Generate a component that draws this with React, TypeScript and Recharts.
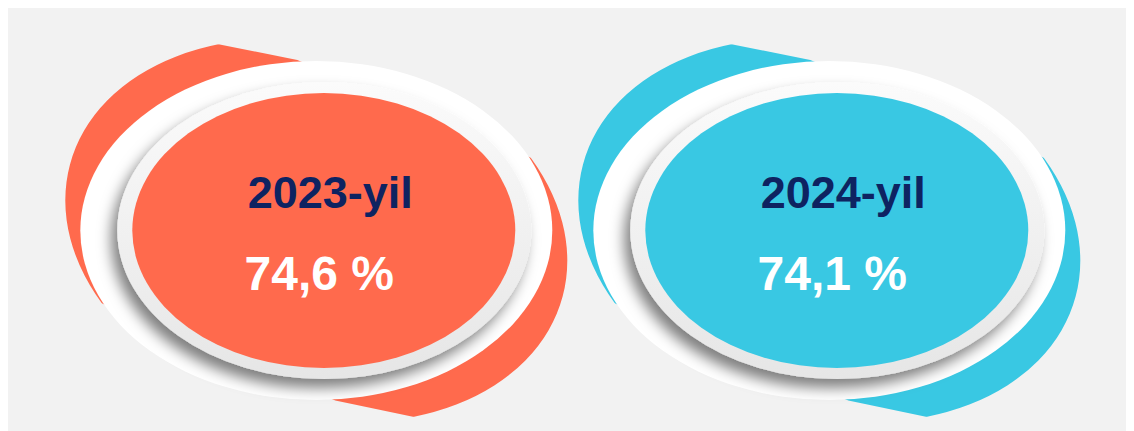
import React from 'react';
import { BarChart, Bar, XAxis, YAxis } from 'recharts';

const years = ['2023-yil', '2024-yil'];
const shares = [74.6, 74.1];
const shareLabels = ['74,6 %', '74,1 %'];
const fillColors = ['#FF6A4D', '#39C8E3'];
const titleColor = '#0E2361';

const data = years.map((year, i) => ({
  year,
  value: shares[i],
  label: shareLabels[i],
  color: fillColors[i],
}));

const W = 1127;
const H = 423;

// geometry relative to the badge centre
const BACK_A = 255;
const BACK_B = 186.5;
const BACK_ROT = 15;
const topLine = (x: number) => -186.5 + 0.2 * (x + 99);
const botLine = (x: number) => 186.5 + 0.21 * (x - 98);
const CHORD_SLOPE = 97 / 232;

function Badge(props: any) {
  const { x, width, background, payload, index } = props;
  const cx = x + width / 2;
  const cy = background && background.height ? background.y + background.height / 2 : 222.5;
  const id = `b${index}`;
  const clipPts = [
    [-400, topLine(-400)],
    [-19, topLine(-19)],
    [213, -73.5],
    [400, -73.5 + 187 * CHORD_SLOPE],
    [400, botLine(400)],
    [19, botLine(19)],
    [-213, 73.5],
    [-400, 73.5 - 187 * CHORD_SLOPE],
  ]
    .map((p) => p.join(','))
    .join(' ');
  return (
    <g transform={`translate(${cx},${cy})`}>
      <defs>
        <clipPath id={`clip-${id}`}>
          <polygon points={clipPts} />
        </clipPath>
        <linearGradient id={`ring-${id}`} x1="0" y1="0" x2="0" y2="1">
          <stop offset="0%" stopColor="#fbfbfb" />
          <stop offset="100%" stopColor="#e6e6e6" />
        </linearGradient>
        <filter id={`sh-${id}`} x="-20%" y="-20%" width="140%" height="150%">
          <feDropShadow dx={-6} dy={9} stdDeviation={7} floodColor="#000" floodOpacity={0.5} />
        </filter>
      </defs>
      <g clipPath={`url(#clip-${id})`}>
        <ellipse cx={0} cy={0} rx={BACK_A} ry={BACK_B} transform={`rotate(${BACK_ROT})`} fill={payload.color} />
      </g>
      <ellipse cx={0} cy={0} rx={236} ry={169.5} fill="#ffffff" />
      <ellipse cx={8} cy={0} rx={207} ry={148.5} fill={`url(#ring-${id})`} filter={`url(#sh-${id})`} />
      <ellipse cx={7.5} cy={0} rx={191.5} ry={137.5} fill={payload.color} />
      <text
        x={14}
        y={-22.5}
        textAnchor="middle"
        fontFamily="'Liberation Sans', Arial, sans-serif"
        fontWeight="bold"
        fontSize={45}
        fill={titleColor}
      >
        {payload.year}
      </text>
      <text
        x={3}
        y={59.5}
        textAnchor="middle"
        fontFamily="'Liberation Sans', Arial, sans-serif"
        fontWeight="bold"
        fontSize={48}
        fill="#ffffff"
      >
        {payload.label}
      </text>
    </g>
  );
}

export default function App() {
  return (
    <div style={{ marginLeft: -1, width: W, height: H, background: '#f2f2f2' }}>
      <BarChart width={W} height={H} data={data} margin={{ top: 22, right: 48, bottom: 0, left: 53 }}>
        <XAxis dataKey="year" hide />
        <YAxis hide domain={[0, 100]} />
        <Bar dataKey="value" isAnimationActive={false} shape={<Badge />} />
      </BarChart>
    </div>
  );
}
